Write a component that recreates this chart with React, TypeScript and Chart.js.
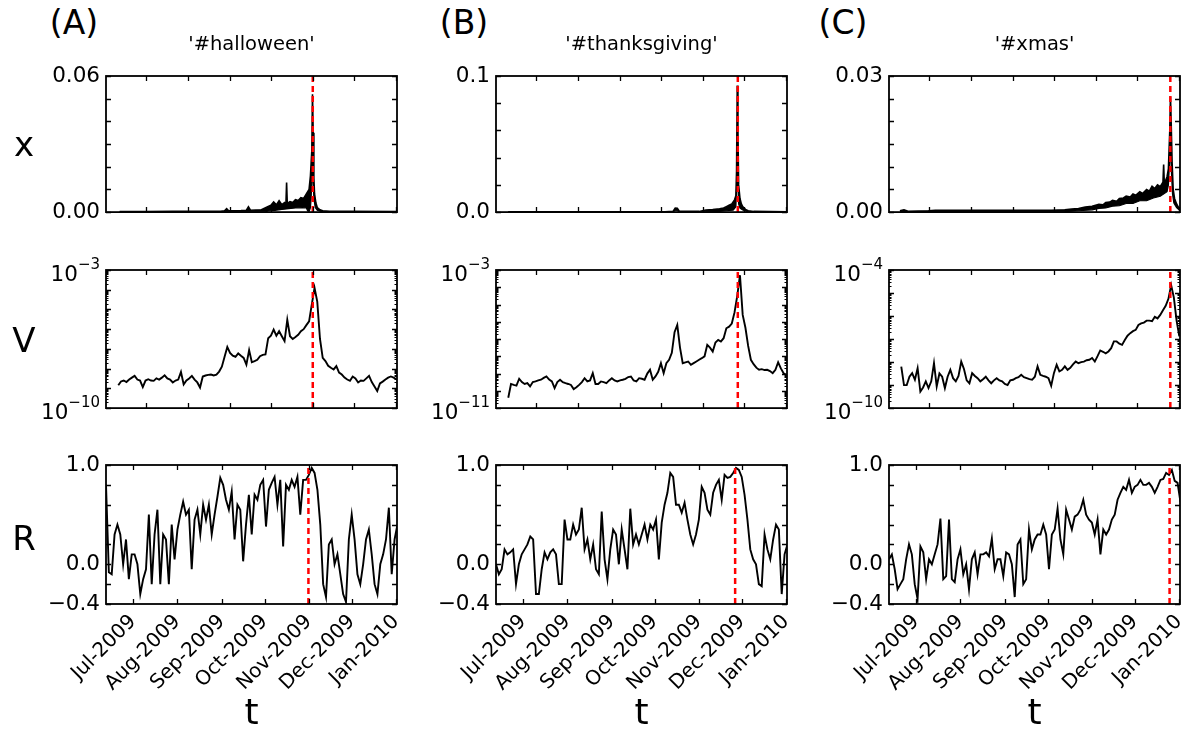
import React, { useEffect, useRef } from 'react';
import { Chart, registerables } from 'chart.js';

Chart.register(...registerables);

const FONT = "'DejaVu Sans', 'Liberation Sans', Arial, sans-serif";

// ---------- categories / labels ----------
const PANEL_LETTERS = ['(A)', '(B)', '(C)'];
const HASHTAGS = ["'#halloween'", "'#thanksgiving'", "'#xmas'"];
const ROW_LABELS = ['x', 'V', 'R'];
const AXIS_LABEL = 't';
const MONTH_DAYS = [0, 31, 62, 92, 123, 153, 184]; // days since 1 Jul 2009
const MONTH_LABELS = ['Jul-2009', 'Aug-2009', 'Sep-2009', 'Oct-2009', 'Nov-2009', 'Dec-2009', 'Jan-2010'];
const EVENT_DAYS = [122.7, 148.4, 177.4];
const TOP_X_RANGE = [-29, 184.5];
const R_X_RANGE = [-19, 184.7];

// ---------- y ticks ----------
const X_TICKS = [
  [0, 0.01, 0.02, 0.03, 0.04, 0.05, 0.06],
  [0, 0.02, 0.04, 0.06, 0.08, 0.1],
  [0, 0.005, 0.01, 0.015, 0.02, 0.025, 0.03],
];
const X_TICK_LABELS = [
  ['0.00', '', '', '', '', '', '0.06'],
  ['0.0', '', '', '', '', '0.1'],
  ['0.00', '', '', '', '', '', '0.03'],
];
const V_DECADES = [[-10, -3], [-11, -3], [-10, -4]];
const R_TICKS = [-0.4, -0.2, 0, 0.2, 0.4, 0.6, 0.8, 1.0];
const R_TICK_LABELS = ['\u22120.4', '', '0.0', '', '', '', '', '1.0'];

// ---------- series x : upper and lower envelope of the fluctuating band, [day, value] ----------
const X_HALLOWEEN_UPPER: [number, number][] = [
  [-19, 0.0002], [0, 0.0002], [20, 0.0003], [40, 0.0003], [55, 0.0004], [58, 0.0006], [59.5, 0.0015], [61, 0.0006],
  [70, 0.0007], [74, 0.0008], [75.5, 0.0023], [77, 0.0008], [85, 0.001], [90, 0.0025], [92, 0.003], [94, 0.0045],
  [96, 0.0032], [98, 0.005], [100, 0.0033], [102, 0.0042], [103, 0.0035], [103.5, 0.013], [104, 0.0038], [106, 0.0046],
  [108, 0.0042], [110, 0.0055], [112, 0.0051], [114, 0.0064], [116, 0.006], [118, 0.008], [120, 0.01], [121, 0.016],
  [122, 0.027], [122.5, 0.052], [123, 0.035], [123.5, 0.015], [124, 0.008], [125, 0.004], [126, 0.002], [128, 0.001],
  [130, 0.0006], [135, 0.0004], [150, 0.0003], [185, 0.0002],
];
const X_HALLOWEEN_LOWER: [number, number][] = [
  [-19, 0.0], [88, 0.0001], [90, 0.0005], [95, 0.0008], [100, 0.0012], [105, 0.0015], [110, 0.0018], [115, 0.002],
  [118, 0.0018], [119, 0.0005], [120, 0.0002], [121, 0.002], [121.5, 0.006], [122.5, 0.02], [123.5, 0.006], [124.5, 0.002],
  [126, 0.0008], [128, 0.0004], [130, 0.0002], [185, 0.0],
];
const X_THANKSGIVING_UPPER: [number, number][] = [
  [-20, 0.0002], [60, 0.0002], [95, 0.0003], [101, 0.0006], [102.5, 0.003], [104, 0.0028], [105.5, 0.0006], [120, 0.0005],
  [125, 0.0015], [130, 0.0018], [135, 0.0025], [138, 0.003], [140, 0.004], [142, 0.005], [144, 0.006], [146, 0.009],
  [147, 0.012], [147.5, 0.03], [148, 0.093], [148.5, 0.06], [149, 0.02], [150, 0.01], [151, 0.006], [152, 0.004],
  [154, 0.002], [156, 0.001], [160, 0.0005], [185, 0.0002],
];
const X_THANKSGIVING_LOWER: [number, number][] = [
  [-20, 0.0], [100, 0.0], [102.5, 0.001], [104, 0.001], [106, 0.0], [125, 0.0002], [135, 0.0006], [140, 0.001],
  [145, 0.0015], [147, 0.004], [148, 0.03], [149, 0.006], [150, 0.003], [152, 0.0015], [154, 0.0008], [156, 0.0002],
  [185, 0.0],
];
const X_XMAS_UPPER: [number, number][] = [
  [-21, 0.0003], [-18, 0.0005], [-15, 0.0002], [0, 0.0003], [5, 0.0004], [18, 0.0004], [30, 0.0004], [60, 0.0004],
  [90, 0.0004], [100, 0.0005], [105, 0.0007], [110, 0.0008], [115, 0.0011], [120, 0.0013], [125, 0.0017], [128, 0.0016],
  [130, 0.0021], [133, 0.0022], [135, 0.0026], [138, 0.0024], [140, 0.003], [143, 0.0031], [145, 0.0035], [148, 0.0033],
  [150, 0.004], [152, 0.0037], [155, 0.0045], [157, 0.0041], [160, 0.005], [162, 0.0046], [164, 0.0057], [166, 0.0052],
  [168, 0.006], [170, 0.0056], [172, 0.0066], [172.5, 0.0105], [173, 0.0062], [175, 0.0078], [176, 0.0095], [177, 0.018],
  [177.5, 0.0255], [178, 0.02], [178.7, 0.011], [179.5, 0.005], [180.5, 0.003], [182, 0.0018], [183.5, 0.001], [185, 0.0005],
];
const X_XMAS_LOWER: [number, number][] = [
  [-21, 0.0], [100, 0.0001], [110, 0.0003], [120, 0.0005], [125, 0.0008], [130, 0.0009], [135, 0.0013], [140, 0.0014],
  [145, 0.0019], [150, 0.0019], [155, 0.0025], [160, 0.0025], [165, 0.0031], [170, 0.0035], [175, 0.0045], [176, 0.006],
  [177, 0.012], [177.5, 0.016], [178, 0.01], [179, 0.004], [180, 0.002], [182, 0.001], [185, 0.0002],
];

// ---------- series V : one value every 2 days from day -28 ----------
const V_DAYS = Array.from({ length: 107 }, (_, i) => -28 + 2 * i);
const V_HALLOWEEN = [
  null, null, null, null,
  1.45e-9, 2.24e-9, 2.5e-9, 2.1e-9, 2.8e-9, 3.5e-9, 4.3e-9, 2.8e-9, 2.5e-9, 1.17e-9,
  2.5e-9, 2.9e-9, 2.5e-9, 2.4e-9, 3.2e-9, 2.8e-9, 3.5e-9, 4.6e-9, 3.2e-9, 2.8e-9,
  2.0e-9, 2.5e-9, 2.8e-9, 6.8e-9, 1.6e-9, 2.5e-9, 3.2e-9, 4.3e-9, 2.8e-9, 2.0e-9,
  1.1e-9, 4.0e-9, 4.5e-9, 4.8e-9, 5.0e-9, 4.5e-9, 5.0e-9, 7.1e-9, 1.26e-8, 4.0e-8,
  1.26e-7, 6.3e-8, 4.5e-8, 4.0e-8, 5.9e-8, 4.5e-8, 3.5e-8, 1.6e-8, 8.7e-8, 2.1e-8,
  2.4e-8, 2.8e-8, 4.3e-8, 5.0e-8, 5.2e-8, 3.5e-7, 4.7e-7, 9.5e-7, 4.7e-7, 7.9e-7,
  4.4e-7, 2.5e-7, 3.0e-6, 4.4e-7, 3.2e-7, 4.0e-7, 5.2e-7, 7.9e-7, 1.0e-6, 1.6e-6,
  2.5e-6, 1.8e-5, 1.26e-4, 2.5e-5, 3.2e-7, 3.5e-8, 2.4e-8, 1.4e-8, 1.1e-8, 9.1e-9,
  1.35e-8, 6.3e-9, 5.0e-9, 3.5e-9, 2.8e-9, 2.4e-9, 4.0e-9, 3.2e-9, 2.0e-9, 2.5e-9,
  2.4e-9, 3.2e-9, 4.3e-9, 2.1e-9, 1.26e-9, 7.4e-10, 1.8e-9, 2.2e-9, 2.8e-9, 3.5e-9,
  4.0e-9, 3.5e-9, 2.9e-9,
];
const V_THANKSGIVING = [
  null, null, null, null,
  4.0e-11, 2.5e-10, 2.2e-10, 2.0e-10, 5.0e-10, 3.2e-10, 2.5e-10, 2.8e-10, 1.8e-10, 3.2e-10,
  3.5e-10, 4.0e-10, 4.4e-10, 5.6e-10, 6.8e-10, 4.5e-10, 3.5e-10, 1.45e-10, 3.2e-10, 4.4e-10,
  3.2e-10, 2.8e-10, 2.5e-10, 2.2e-10, 1.26e-10, 1.6e-10, 2.2e-10, 3.2e-10, 5.4e-10, 3.5e-10,
  4.0e-10, 1.05e-9, 2.5e-10, 2.5e-10, 3.5e-10, 3.2e-10, 2.8e-10, 4.0e-10, 5.4e-10, 4.0e-10,
  3.5e-10, 4.0e-10, 4.4e-10, 5.0e-10, 6.3e-10, 6.8e-10, 4.0e-10, 3.5e-10, 5.4e-10, 5.0e-10,
  4.4e-10, 1.0e-9, 1.66e-9, 4.4e-10, 6.8e-10, 1.26e-9, 4.0e-9, 1.05e-9, 4.0e-9, 6.3e-9,
  1.6e-8, 2.5e-7, 6.6e-7, 3.2e-8, 4.0e-9, 4.5e-9, 5.0e-9, 3.2e-9, 4.0e-9, 5.0e-9,
  6.3e-9, 7.8e-9, 1.0e-8, 4.6e-8, 3.2e-8, 1.9e-8, 6.3e-8, 8.9e-8, 7.1e-8, 1.12e-7,
  4.2e-7, 5.2e-7, 7.9e-7, 3.5e-6, 3.2e-5, 5.0e-4, 2.5e-6, 4.5e-7, 4.0e-8, 6.3e-9,
  3.5e-9, 2.2e-9, 1.66e-9, 1.8e-9, 1.6e-9, 1.66e-9, 1.4e-9, 1.05e-9, 1.66e-9, 4.5e-9,
  2.0e-9, 1.05e-9, 8.5e-10,
];
const V_XMAS = [
  null, null, null, null,
  6.3e-9, 1.0e-9, 1.0e-9, 2.3e-9, 3.3e-9, 1.7e-9, 5.4e-9, 5.2e-10, 7.9e-10, 1.45e-9,
  7.4e-10, 1.45e-9, 8.9e-9, 8.7e-10, 3.2e-9, 2.3e-9, 7.4e-10, 2.3e-9, 4.6e-9, 2.0e-9,
  1.45e-9, 2.5e-9, 1.05e-8, 5.0e-9, 1.6e-9, 1.2e-9, 3.3e-9, 2.5e-9, 2.0e-9, 1.45e-9,
  1.8e-9, 2.3e-9, 1.6e-9, 1.2e-9, 1.6e-9, 2.0e-9, 1.6e-9, 1.45e-9, 1.12e-9, 1.0e-9,
  1.6e-9, 1.7e-9, 2.0e-9, 2.2e-9, 2.8e-9, 2.2e-9, 2.0e-9, 1.8e-9, 1.7e-9, 2.3e-9,
  6.5e-9, 2.8e-9, 2.5e-9, 2.3e-9, 2.0e-9, 9.3e-10, 3.3e-9, 7.6e-9, 3.9e-9, 4.6e-9,
  6.5e-9, 4.6e-9, 5.6e-9, 7.9e-9, 1.05e-8, 8.9e-9, 1.0e-8, 1.05e-8, 1.2e-8, 1.26e-8,
  1.5e-8, 1.05e-8, 1.8e-8, 3.2e-8, 2.8e-8, 2.4e-8, 2.9e-8, 4.0e-8, 7.9e-8, 7.9e-8,
  6.3e-8, 5.6e-8, 9.1e-8, 1.4e-7, 1.8e-7, 2.2e-7, 2.5e-7, 4.1e-7, 4.8e-7, 5.2e-7,
  6.3e-7, 6.3e-7, 6.0e-7, 9.3e-7, 7.9e-7, 1.12e-6, 1.8e-6, 2.8e-6, 5.6e-6, 2.2e-5,
  6.3e-6, 6.3e-7, 1.3e-7,
];

// ---------- series R : one value every 2 days from day -19 ----------
const R_DAYS = Array.from({ length: 103 }, (_, i) => -19 + 2 * i);
const R_HALLOWEEN = [
  0.8, -0.08, -0.1, 0.3, 0.4, 0.3, 0.0, 0.25, -0.15, 0.1,
  0.1, 0.0, -0.3, -0.15, -0.05, 0.5, -0.2, 0.3, 0.55, -0.2,
  0.3, 0.25, -0.2, 0.4, 0.05, 0.35, 0.5, 0.63, 0.5, 0.55,
  -0.05, 0.45, 0.55, 0.3, 0.6, 0.45, 0.6, 0.3, 0.5, 0.68,
  0.87, 0.8, 0.65, 0.55, 0.73, 0.25, 0.6, 0.55, 0.03, 0.4,
  0.7, 0.3, 0.7, 0.65, 0.8, 0.85, 0.38, 0.75, 0.82, 0.88,
  0.6, 0.85, 0.18, 0.8, 0.75, 0.85, 0.78, 0.88, 0.5, 0.85,
  0.85, 0.9, 0.97, 0.92, 0.75, 0.4, -0.2, -0.33, 0.2, 0.25,
  0.0, 0.1, -0.1, -0.3, -0.38, 0.25, 0.5, 0.25, -0.1, -0.2,
  0.0, 0.25, 0.35, 0.1, -0.2, -0.3, 0.0, 0.1, 0.25, 0.57,
  -0.1, 0.25, 0.4,
];
const R_THANKSGIVING = [
  0.0, -0.1, -0.05, 0.15, 0.1, 0.12, 0.15, -0.2, 0.0, 0.1,
  0.15, 0.2, 0.28, 0.25, -0.3, -0.3, -0.05, 0.12, 0.05, 0.12,
  0.15, 0.1, -0.2, -0.2, 0.45, 0.25, 0.25, 0.4, 0.3, 0.35,
  0.57, 0.15, 0.25, 0.05, 0.2, -0.05, -0.1, 0.53, 0.05, -0.15,
  0.15, 0.35, 0.3, 0.0, 0.35, 0.15, -0.05, 0.56, 0.2, 0.3,
  0.2, 0.3, 0.4, 0.25, 0.4, 0.35, 0.45, 0.05, 0.42, 0.6,
  0.72, 0.92, 0.88, 0.6, 0.6, 0.52, 0.62, 0.45, 0.3, 0.2,
  0.3, 0.45, 0.78, 0.72, 0.55, 0.5, 0.72, 0.8, 0.85, 0.65,
  0.9, 0.87, 0.88, 0.92, 0.97, 0.95, 0.88, 0.7, 0.45, 0.15,
  0.05, 0.0, -0.2, -0.22, 0.3, 0.15, 0.05, 0.25, 0.4, 0.35,
  -0.3, 0.1, 0.2,
];
const R_XMAS = [
  0.05, 0.1, -0.05, -0.25, -0.2, -0.15, 0.05, 0.2, 0.1, -0.2,
  -0.35, 0.18, 0.12, -0.15, 0.05, 0.0, 0.1, 0.2, 0.46, -0.15,
  -0.12, 0.45, -0.15, -0.18, 0.05, 0.15, -0.1, 0.0, -0.25, 0.05,
  0.12, -0.1, 0.1, 0.1, 0.12, 0.08, 0.26, -0.05, 0.05, 0.05,
  -0.12, 0.12, 0.1, 0.0, -0.33, 0.2, 0.25, -0.2, -0.15, 0.35,
  0.15, 0.25, 0.3, 0.3, 0.4, 0.3, -0.05, 0.3, 0.35, 0.56,
  0.25, 0.1, 0.55, 0.45, 0.35, 0.48, 0.5, 0.55, 0.65, 0.5,
  0.45, 0.42, 0.3, 0.45, 0.1, 0.35, 0.3, 0.35, 0.45, 0.5,
  0.65, 0.72, 0.78, 0.75, 0.85, 0.72, 0.78, 0.8, 0.85, 0.8,
  0.8, 0.82, 0.78, 0.72, 0.78, 0.85, 0.86, 0.92, 0.9, 0.95,
  0.84, 0.82, 0.63,
];

const X_UPPER = [X_HALLOWEEN_UPPER, X_THANKSGIVING_UPPER, X_XMAS_UPPER];
const X_LOWER = [X_HALLOWEEN_LOWER, X_THANKSGIVING_LOWER, X_XMAS_LOWER];
const V_SERIES = [V_HALLOWEEN, V_THANKSGIVING, V_XMAS];
const R_SERIES = [R_HALLOWEEN, R_THANKSGIVING, R_XMAS];

// ---------- layout ----------
const COL_LEFT = [106, 496, 889];
const ROW_TOP = [76, 270, 465];
const PLOT_W = 291;
const PLOT_H = [137, 139, 139];
const AXIS_W = 100;
const PAD_TOP = 22;
const PAD_RIGHT = 30;
const BOTTOM_H = [18, 18, 110];
const YTICK_SIZE = 21.5;
const EXP_SIZE = 15;
const XTICK_SIZE = 20;

const framePlugin = {
  id: 'frame',
  afterDatasetsDraw(chart: any, _args: any, opts: any) {
    const { ctx, chartArea: a } = chart;
    const xs = chart.scales.x;
    const ys = chart.scales.y;
    ctx.save();
    ctx.strokeStyle = '#000';
    ctx.lineWidth = 1.3;
    const L = 5;
    ctx.beginPath();
    for (const t of xs.ticks) {
      const px = Math.round(xs.getPixelForValue(t.value)) + 0.5;
      if (px < a.left || px > a.right) continue;
      ctx.moveTo(px, a.bottom); ctx.lineTo(px, a.bottom - L);
      ctx.moveTo(px, a.top); ctx.lineTo(px, a.top + L);
    }
    for (const t of ys.ticks) {
      const py = Math.round(ys.getPixelForValue(t.value)) + 0.5;
      ctx.moveTo(a.left, py); ctx.lineTo(a.left + L, py);
      ctx.moveTo(a.right, py); ctx.lineTo(a.right - L, py);
    }
    ctx.stroke();
    if (opts && opts.minor && opts.minor.length) {
      ctx.lineWidth = 1;
      ctx.beginPath();
      for (const v of opts.minor) {
        const py = Math.round(ys.getPixelForValue(v)) + 0.5;
        ctx.moveTo(a.left, py); ctx.lineTo(a.left + 2.5, py);
        ctx.moveTo(a.right, py); ctx.lineTo(a.right - 2.5, py);
      }
      ctx.stroke();
    }
    ctx.lineWidth = 1.8;
    ctx.strokeRect(a.left, a.top, a.right - a.left, a.bottom - a.top);

    // power-of-ten labels (base + raised exponent)
    if (opts && opts.pow && opts.pow.length) {
      ctx.fillStyle = '#000';
      ctx.textBaseline = 'alphabetic';
      ctx.textAlign = 'left';
      for (const [val, n] of opts.pow) {
        const py = ys.getPixelForValue(val);
        const base = '10';
        const exp = '\u2212' + String(Math.abs(n));
        ctx.font = `${YTICK_SIZE}px ${FONT}`;
        const bw = ctx.measureText(base).width;
        ctx.font = `${EXP_SIZE}px ${FONT}`;
        const ew = ctx.measureText(exp).width;
        const right = a.left - 6;
        const x0 = right - bw - ew;
        const by = py + 11;
        ctx.font = `${YTICK_SIZE}px ${FONT}`;
        ctx.fillText(base, x0, by);
        ctx.font = `${EXP_SIZE}px ${FONT}`;
        ctx.fillText(exp, x0 + bw, by - 12);
      }
    }
    ctx.restore();
  },
};

function buildConfig(col: number, row: number): any {
  let yTicks: number[];
  let yLabels: string[];
  const minor: number[] = [];
  const pow: [number, number][] = [];
  const isLog = row === 1;
  const dataLines: any[] = [];
  if (row === 0) {
    dataLines.push({
      data: X_UPPER[col].map(([d, v]) => ({ x: d, y: v })),
      borderColor: '#000000',
      backgroundColor: '#000000',
      borderWidth: 1.6,
      pointRadius: 0,
      tension: 0,
      fill: '+1',
    });
    dataLines.push({
      data: X_LOWER[col].map(([d, v]) => ({ x: d, y: v })),
      borderColor: '#000000',
      borderWidth: 1.2,
      pointRadius: 0,
      tension: 0,
      fill: false,
    });
    yTicks = X_TICKS[col];
    yLabels = X_TICK_LABELS[col];
  } else if (row === 1) {
    dataLines.push({
      data: V_DAYS.map((d, i) => ({ x: d, y: V_SERIES[col][i] })),
      borderColor: '#000000',
      borderWidth: 1.9,
      pointRadius: 0,
      tension: 0,
      spanGaps: false,
    });
    const [lo, hi] = V_DECADES[col];
    yTicks = [];
    yLabels = [];
    for (let n = lo; n <= hi; n++) {
      yTicks.push(Math.pow(10, n));
      yLabels.push('');
      if (n === lo || n === hi) pow.push([Math.pow(10, n), n]);
      if (n < hi) for (let k = 2; k <= 9; k++) minor.push(k * Math.pow(10, n));
    }
  } else {
    dataLines.push({
      data: R_DAYS.map((d, i) => ({ x: d, y: R_SERIES[col][i] })),
      borderColor: '#000000',
      borderWidth: 1.9,
      pointRadius: 0,
      tension: 0,
    });
    yTicks = R_TICKS;
    yLabels = R_TICK_LABELS;
  }
  const yMin = yTicks[0];
  const yMax = yTicks[yTicks.length - 1];
  const xr = row === 2 ? R_X_RANGE : TOP_X_RANGE;
  const bottomH = BOTTOM_H[row];
  return {
    type: 'line',
    data: {
      datasets: [
        {
          data: [{ x: EVENT_DAYS[col], y: yMin }, { x: EVENT_DAYS[col], y: yMax }],
          borderColor: '#ff0000',
          borderWidth: 2.5,
          borderDash: [6, 4],
          pointRadius: 0,
          fill: false,
        },
        ...dataLines,
      ],
    },
    options: {
      animation: false,
      responsive: false,
      events: [],
      layout: { padding: { left: 0, top: PAD_TOP, right: PAD_RIGHT, bottom: 0 } },
      plugins: { legend: { display: false }, tooltip: { enabled: false }, frame: { minor, pow } },
      scales: {
        x: {
          type: 'linear',
          min: xr[0],
          max: xr[1],
          grid: { display: false, drawTicks: false },
          border: { display: false },
          afterBuildTicks: (s: any) => { s.ticks = MONTH_DAYS.map((v) => ({ value: v })); },
          afterFit: (s: any) => { s.height = bottomH; },
          ticks: {
            display: row === 2,
            autoSkip: false,
            minRotation: 45,
            maxRotation: 45,
            padding: 6,
            color: '#000',
            font: { family: FONT, size: XTICK_SIZE },
            callback: (_v: any, i: number) => MONTH_LABELS[i],
          },
        },
        y: {
          type: isLog ? 'logarithmic' : 'linear',
          min: yMin,
          max: yMax,
          grid: { display: false, drawTicks: false },
          border: { display: false },
          afterBuildTicks: (s: any) => { s.ticks = yTicks.map((v) => ({ value: v })); },
          afterFit: (s: any) => { s.width = AXIS_W; },
          ticks: {
            autoSkip: false,
            padding: 6,
            color: '#000',
            font: { family: FONT, size: YTICK_SIZE },
            callback: (_v: any, i: number) => yLabels[i],
          },
        },
      },
    },
    plugins: [framePlugin],
  };
}

function Panel({ col, row }: { col: number; row: number }) {
  const ref = useRef<HTMLCanvasElement>(null);
  const w = AXIS_W + PLOT_W + PAD_RIGHT;
  const h = PAD_TOP + PLOT_H[row] + BOTTOM_H[row];
  const left = COL_LEFT[col] - AXIS_W;
  const top = ROW_TOP[row] - PAD_TOP;
  useEffect(() => {
    const chart = new Chart(ref.current as HTMLCanvasElement, buildConfig(col, row));
    return () => chart.destroy();
  }, [col, row]);
  return (
    <canvas
      ref={ref}
      width={w}
      height={h}
      style={{ position: 'absolute', left, top, width: w, height: h }}
    />
  );
}

function Label({ text, cx, cy, size }: { text: string; cx: number; cy: number; size: number }) {
  return (
    <div
      style={{
        position: 'absolute',
        left: cx,
        top: cy,
        transform: 'translate(-50%, -50%)',
        fontFamily: FONT,
        fontSize: size,
        lineHeight: 1,
        whiteSpace: 'nowrap',
        color: '#000',
      }}
    >
      {text}
    </div>
  );
}

const LETTER_CX = [74, 464, 843];
const ROW_LABEL_CY = [144, 340, 538];

export default function App() {
  const panels = [];
  for (let r = 0; r < 3; r++) for (let c = 0; c < 3; c++) panels.push(<Panel key={`${r}-${c}`} col={c} row={r} />);
  return (
    <div
      style={{
        position: 'absolute',
        left: 0,
        top: 0,
        width: 1186,
        height: 730,
        overflow: 'hidden',
        background: '#fff',
      }}
    >
      {panels}
      {PANEL_LETTERS.map((t, i) => (
        <Label key={t} text={t} cx={LETTER_CX[i]} cy={22} size={33} />
      ))}
      {HASHTAGS.map((t, i) => (
        <Label key={t} text={t} cx={COL_LEFT[i] + PLOT_W / 2} cy={44} size={19.5} />
      ))}
      {ROW_LABELS.map((t, i) => (
        <Label key={t} text={t} cx={24} cy={ROW_LABEL_CY[i]} size={34} />
      ))}
      {COL_LEFT.map((l, i) => (
        <Label key={'t' + i} text={AXIS_LABEL} cx={l + PLOT_W / 2} cy={712} size={36} />
      ))}
    </div>
  );
}
